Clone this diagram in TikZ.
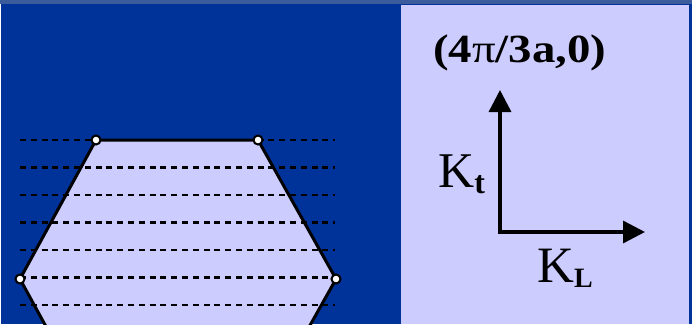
\documentclass[tikz,border=0pt]{standalone}
\usepackage{fontspec}
\setmainfont{Liberation Serif}
\usetikzlibrary{arrows.meta}
\definecolor{bgblue}{HTML}{003399}
\definecolor{lav}{HTML}{CCCCFF}
\definecolor{strip}{HTML}{3A5C9C}
\tikzset{
  hexedge/.style={draw=black, line width=3pt, fill=lav, line join=miter},
  scanline/.style={draw=black, line width=2.8pt, dash pattern=on 6pt off 4.8pt},
  vtx/.style={circle, draw=black, fill=white, line width=2pt, minimum size=9pt, inner sep=0pt},
  axis/.style={line width=3.4pt, line join=miter, {Triangle[length=22pt,width=22pt]}-{Triangle[length=22pt,width=22pt]}},
  lbl/.style={inner sep=0pt, anchor=base west}
}
\begin{document}
\begin{tikzpicture}[x=1pt,y=-1pt]
\useasboundingbox (0,0) rectangle (692,324);
% backgrounds
\fill[bgblue] (0,0) rectangle (692,324);
\fill[strip] (0,0) rectangle (692,4);
\fill[white] (0,4) rectangle (1,324);
\fill[lav] (401,5) rectangle (689,324);
% hexagon (clipped at picture bottom)
\begin{scope}
\clip (0,0) rectangle (400,324);
\coordinate (tl) at (96,140);
\coordinate (tr) at (258,140);
\coordinate (r) at (336,279);
\coordinate (br) at (258,418);
\coordinate (bl) at (96,418);
\coordinate (l) at (20,279);
\path[hexedge] (tl) -- (tr) -- (r) -- (br) -- (bl) -- (l) -- cycle;
\foreach \k in {0,...,6}{
  \coordinate (sa\k) at (20,140+27.5*\k);
  \coordinate (sb\k) at (335,140+27.5*\k);
  \draw[scanline] (sa\k) -- (sb\k);
}
\node[vtx] (vtl) at (tl) {};
\node[vtx] (vtr) at (tr) {};
\node[vtx] (vr) at (r) {};
\node[vtx] (vl) at (l) {};
\end{scope}
% axes
\coordinate (o) at (500,232);
\coordinate (kt) at (500,90);
\coordinate (kl) at (645,232);
\draw[axis] (kt) -- (o) -- (kl);
% labels
\node[lbl, xscale=1.17] (pt) at (433,62) {\fontsize{40}{48}\selectfont\bfseries (4{\mdseries π}/3a,0)};
\node[lbl] (ktl) at (438,187) {\fontsize{50}{60}\selectfont K\raisebox{-6pt}{\fontsize{32}{36}\selectfont\bfseries t}};
\node[lbl] (kll) at (537,282) {\fontsize{51}{60}\selectfont K\raisebox{-5pt}{\fontsize{28}{32}\selectfont\bfseries L}};
\end{tikzpicture}
\end{document}
